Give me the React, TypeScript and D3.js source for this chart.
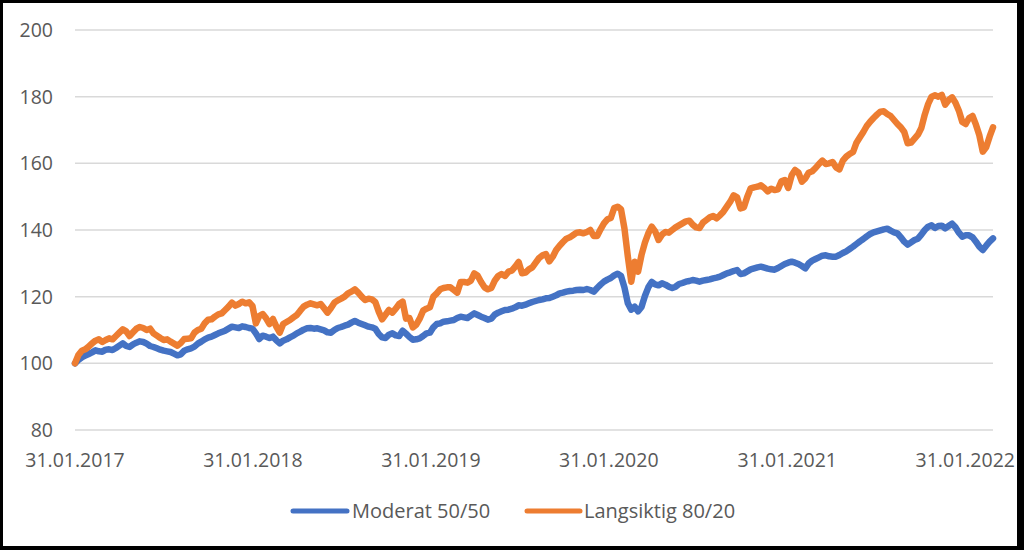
import React from "react";
import * as d3 from "d3";

// Weekly observations starting 31.01.2017
const startDate = new Date(2017, 0, 31);
const stepDays = 7;

const seriesNames = ["Moderat 50/50", "Langsiktig 80/20"];
const seriesColors = ["#4472C4", "#ED7D31"];

const moderat = [
  100, 101.0, 101.8, 102.3, 102.8, 103.3, 103.9, 103.6, 103.5, 104.1,
  104.2, 104.0, 104.6, 105.3, 106.0, 105.2, 104.9, 105.7, 106.2, 106.6,
  106.4, 105.9, 105.2, 104.9, 104.5, 104.1, 103.8, 103.6, 103.4, 102.9,
  102.4, 102.7, 103.8, 104.2, 104.5, 105.0, 105.9, 106.5, 107.2, 107.7,
  108.0, 108.5, 109.0, 109.4, 109.8, 110.4, 111.0, 110.8, 110.6, 111.1,
  110.9, 110.6, 110.4, 109.0, 107.3, 108.3, 108.0, 107.6, 108.0, 106.9,
  106.0, 106.8, 107.2, 107.8, 108.3, 109.0, 109.5, 110.1, 110.5, 110.6,
  110.4, 110.5, 110.2, 109.9, 109.3, 109.2, 110.0, 110.6, 110.9, 111.3,
  111.6, 112.2, 112.7, 112.2, 111.8, 111.4, 111.0, 110.8, 110.4, 108.8,
  107.8, 107.6, 108.6, 109.0, 108.4, 108.2, 109.8, 108.9, 107.9, 107.1,
  107.2, 107.5, 108.2, 109.0, 109.2, 110.8, 111.8, 112.0, 112.5, 112.6,
  112.8, 113.0, 113.6, 114.0, 113.8, 113.6, 114.3, 115.0, 114.5, 114.0,
  113.6, 113.1, 113.4, 114.6, 115.2, 115.6, 116.0, 116.1, 116.4, 116.8,
  117.4, 117.3, 117.6, 118.0, 118.4, 118.7, 119.0, 119.2, 119.5, 119.6,
  120.0, 120.4, 121.0, 121.2, 121.5, 121.7, 121.8, 122.0, 122.1, 122.0,
  122.3, 122.0, 121.5, 122.6, 123.6, 124.5, 125.1, 125.6, 126.4, 126.9,
  126.2, 122.8, 118.0, 116.1, 117.0, 115.6, 116.9, 120.2, 122.8, 124.4,
  123.7, 123.4, 124.0, 123.6, 123.0, 122.6, 123.0, 123.8, 124.1, 124.5,
  124.7, 125.0, 124.8, 124.5, 124.8, 125.0, 125.2, 125.5, 125.7, 126.0,
  126.5, 127.0, 127.3, 127.7, 128.0, 126.8, 127.0, 127.6, 128.2, 128.5,
  128.8, 129.0, 128.7, 128.4, 128.2, 128.1, 128.6, 129.2, 129.8, 130.2,
  130.5, 130.2, 129.8, 129.2, 128.5, 130.0, 130.8, 131.3, 131.8, 132.3,
  132.4, 132.1, 132.0, 132.0, 132.5, 133.1, 133.6, 134.3, 135.0, 135.8,
  136.6, 137.3, 138.1, 138.8, 139.3, 139.6, 139.9, 140.2, 140.4, 139.8,
  139.3, 139.0, 137.8, 136.5, 135.6, 136.3, 137.0, 137.4, 138.6, 140.0,
  141.0, 141.4, 140.6, 141.2, 141.3, 140.5, 141.2, 141.9, 140.8, 139.2,
  138.0, 138.4, 138.4, 137.8, 136.5, 135.0, 134.0, 135.3, 136.5, 137.5,
];

const langsiktig = [
  100, 102.5, 103.8, 104.2, 105.0, 106.0, 106.8, 107.2, 106.4, 107.0,
  107.5, 107.2, 108.2, 109.2, 110.2, 109.6, 108.2, 109.3, 110.4, 110.9,
  110.6, 110.0, 110.4, 109.0, 108.3, 107.6, 107.0, 107.2, 106.5, 105.9,
  105.3, 106.1, 107.3, 107.4, 107.5, 109.2, 110.0, 110.4, 112.0, 113.1,
  113.2, 114.0, 114.7, 115.0, 116.0, 117.0, 118.2, 117.3, 117.8, 118.5,
  118.0, 118.3, 117.2, 112.0, 114.2, 114.8, 113.5, 111.8, 113.3, 111.0,
  109.2, 111.8, 112.4, 113.0, 113.8, 114.5, 115.8, 117.0, 117.6, 118.0,
  117.7, 117.4, 117.8, 116.5, 115.2, 116.6, 118.2, 118.9, 119.4, 120.0,
  121.0, 121.5, 122.2, 121.2, 120.0, 119.0, 119.4, 119.2, 118.4, 115.5,
  113.2, 114.6, 116.0, 115.2, 116.4, 117.8, 118.5, 113.4, 113.6, 110.8,
  111.6, 113.4, 115.8, 116.4, 116.8, 120.0, 121.0, 122.2, 122.6, 122.8,
  122.8, 122.0, 121.2, 124.4, 124.4, 124.2, 124.8, 127.0, 126.3, 124.4,
  122.8, 122.2, 122.6, 124.8, 126.2, 126.8, 126.2, 127.5, 127.8, 129.0,
  130.4, 127.0, 127.2, 128.2, 128.8, 130.2, 131.6, 132.4, 132.8, 130.6,
  132.0, 134.0, 135.3, 136.4, 137.4, 137.8, 138.5, 139.2, 139.3, 139.0,
  139.4, 140.0, 138.2, 138.2, 140.2, 142.0, 143.2, 143.6, 146.6, 147.0,
  146.2, 140.5, 132.0, 124.5, 130.5, 127.5, 132.5, 136.2, 139.0, 141.0,
  139.6, 137.0, 138.6, 139.4, 139.2, 140.0, 140.8, 141.4, 142.0, 142.6,
  142.8, 141.6, 140.8, 140.6, 142.2, 143.0, 143.8, 144.2, 143.5, 144.4,
  145.5, 147.0, 148.5, 150.4, 149.8, 146.5, 146.8, 150.0, 152.5, 152.8,
  153.0, 153.4, 152.6, 151.6, 152.4, 152.0, 152.2, 154.6, 155.0, 152.6,
  156.4, 158.0, 157.2, 154.5, 155.5, 157.2, 157.6, 158.6, 159.8, 160.8,
  159.8, 160.0, 160.4, 158.8, 158.2, 160.8, 162.0, 162.8, 163.4, 166.2,
  167.8, 169.4, 171.2, 172.5, 173.6, 174.6, 175.5, 175.6, 174.8, 174.2,
  173.0, 171.8, 170.8, 169.4, 166.0, 166.2, 167.4, 168.6, 170.6, 174.6,
  177.8, 180.0, 180.4, 180.0, 180.5, 177.6, 179.0, 179.8, 178.2, 175.8,
  172.4, 171.8, 173.6, 174.2, 171.6, 168.4, 163.5, 164.8, 168.0, 170.8,
];

const yTicks = [80, 100, 120, 140, 160, 180, 200];
const xTickDates = [
  new Date(2017, 0, 31),
  new Date(2018, 0, 31),
  new Date(2019, 0, 31),
  new Date(2020, 0, 31),
  new Date(2021, 0, 31),
  new Date(2022, 0, 31),
];

const W = 1024;
const H = 550;
const FONT = "'Open Sans', 'Noto Sans', sans-serif";
const TEXT_COLOR = "#595959";

export default function App() {
  const dates = moderat.map((_, i) => d3.timeDay.offset(startDate, i * stepDays));
  const x = d3
    .scaleTime()
    .domain([startDate, dates[dates.length - 1]])
    .range([75, 993]);
  const y = d3.scaleLinear().domain([80, 200]).range([430, 30]);
  const line = d3
    .line<number>()
    .x((_, i) => x(dates[i]))
    .y((d) => y(d))
    .curve(d3.curveLinear);
  const fmt = d3.timeFormat("%d.%m.%Y");
  const series = [moderat, langsiktig];

  const legendItems = [
    { x1: 293, x2: 347, tx: 352 },
    { x1: 527, x2: 580, tx: 584 },
  ];

  return (
    <svg
      width={W}
      height={H}
      style={{ position: "fixed", left: 0, top: 0, display: "block" }}
      fontFamily={FONT}
    >
      <rect x={0} y={0} width={W} height={H} fill="#000" />
      <rect x={3} y={3} width={1014} height={543} fill="#fff" />
      {yTicks.map((t) => (
        <g key={t}>
          <line
            x1={75}
            x2={993}
            y1={y(t)}
            y2={y(t)}
            stroke="#D9D9D9"
            strokeWidth={1.5}
          />
          <text
            x={53}
            y={y(t) + 7}
            textAnchor="end"
            fontSize={19.5}
            fill={TEXT_COLOR}
          >
            {t}
          </text>
        </g>
      ))}
      {xTickDates.map((d) => (
        <text
          key={d.getTime()}
          x={x(d)}
          y={467}
          textAnchor="middle"
          fontSize={19.5}
          fill={TEXT_COLOR}
        >
          {fmt(d)}
        </text>
      ))}
      {series.map((s, k) => (
        <path
          key={k}
          d={line(s) || ""}
          fill="none"
          stroke={seriesColors[k]}
          strokeWidth={6.5}
          strokeLinejoin="round"
          strokeLinecap="round"
        />
      ))}
      {legendItems.map((it, k) => (
        <g key={k}>
          <line
            x1={it.x1}
            x2={it.x2}
            y1={511}
            y2={511}
            stroke={seriesColors[k]}
            strokeWidth={5}
            strokeLinecap="round"
          />
          <text x={it.tx} y={518} fontSize={20} fill={TEXT_COLOR}>
            {seriesNames[k]}
          </text>
        </g>
      ))}
    </svg>
  );
}
